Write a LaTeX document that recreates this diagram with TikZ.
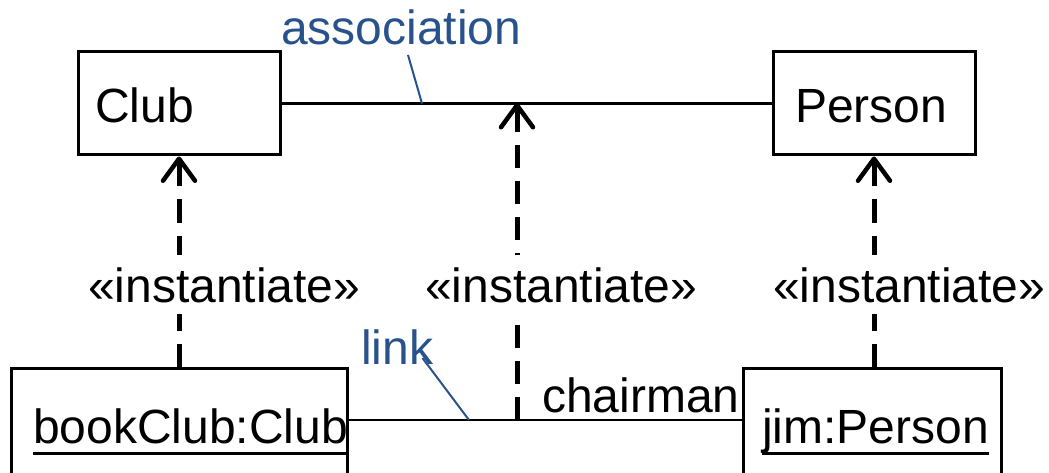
\documentclass[tikz,border=0pt]{standalone}
\usepackage{fontspec}
\setmainfont{Liberation Sans}
\usetikzlibrary{arrows.meta}
\definecolor{noteblue}{RGB}{40,82,140}
\begin{document}
\begin{tikzpicture}[x=1pt,y=-1pt,
  box/.style={draw=black, line width=3pt, rectangle, inner sep=0pt},
  txt/.style={font=\fontsize{48}{56}\selectfont, inner sep=0pt},
  conn/.style={line width=2.5pt},
  note/.style={draw=noteblue, line width=2pt},
  notetxt/.style={txt, text=noteblue},
  inst/.style={line width=5pt, dash pattern=on 23pt off 13pt,
    -{Straight Barb[length=22pt,width=32pt,line width=4.5pt,round]}},
  stereo/.style={txt, fill=white, inner ysep=12pt, inner xsep=0pt}]
\useasboundingbox (0,0) rectangle (1049,473);
\clip (0,0) rectangle (1049,473);
% classes
\node[box, txt, minimum width=202pt, minimum height=103pt, text width=168pt, text height=38pt, text depth=0pt, align=left, inner xsep=17pt] (club) at (179,103.5) {Club};
\node[box, txt, minimum width=202pt, minimum height=103pt, text width=158pt, text height=38pt, text depth=0pt, align=left, inner xsep=22pt] (person) at (874,103.5) {Person};
% objects
\node[box, minimum width=336pt, minimum height=140pt] (bc) at (179,438) {};
\node[box, minimum width=258pt, minimum height=140pt] (jim) at (872,438) {};
\node[txt, anchor=base west] (bct) at (33,443) {bookClub:Club};
\draw[line width=3pt] ([yshift=-10pt]bct.base west) -- ([yshift=-10pt]bct.base east);
\node[txt, anchor=base west] (jt) at (762,443) {jim:Person};
\draw[line width=3pt] ([yshift=-10pt]jt.base west) -- ([yshift=-10pt]jt.base east);
% association
\draw[conn] (club.east) -- (person.west);
\node[notetxt, anchor=base west] (assoc) at (281,45) {association};
\coordinate (assoctip) at (422,103.5);
\draw[note] ([shift={(127pt,-10pt)}]assoc.base west) -- (assoctip);
% link
\coordinate (lk) at (517,420);
\coordinate (ctop) at (517,103);
\draw[conn] (bc.east |- lk) -- (jim.west |- lk);
\node[txt, anchor=base west] (chair) at (542,412) {chairman};
\node[notetxt, anchor=base west] (linklbl) at (361,364) {link};
\coordinate (linktip) at (469,420);
\draw[note] ([shift={(-11pt,6pt)}]linklbl.base east) -- (linktip);
% instantiate dependencies
\draw[inst] (bc.north) -- (club.south);
\draw[inst] (lk) -- (ctop);
\draw[inst] (jim.north -| person.south) -- (person.south);
\node[stereo, anchor=base west] (s1) at (88,302) {«instantiate»};
\node[stereo, anchor=base west] (s2) at (425,302) {«instantiate»};
\node[stereo, anchor=base west] (s3) at (773,302) {«instantiate»};
\end{tikzpicture}
\end{document}
